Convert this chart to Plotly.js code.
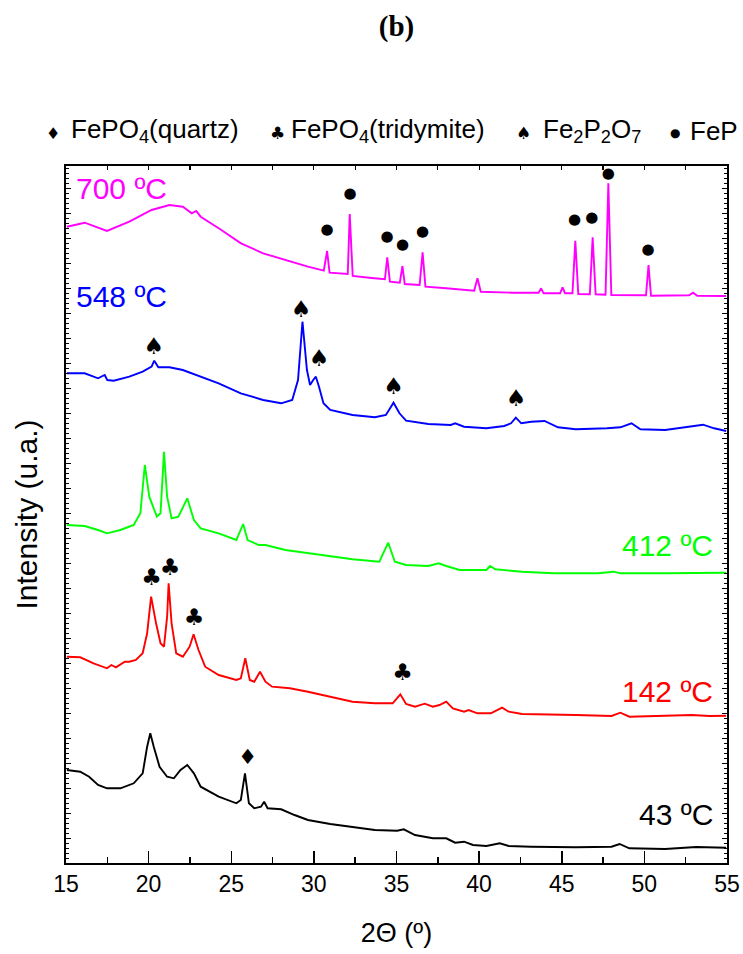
<!DOCTYPE html>
<html>
<head>
<meta charset="utf-8">
<script src="https://cdn.plot.ly/plotly-3.0.1.min.js"></script>
<style>html,body{margin:0;padding:0;background:#fff;}#chart{width:743px;height:954px;}</style>
</head>
<body>
<div id="chart"></div>
<script>
// ---- Data (2θ in degrees, intensity in arbitrary stacked units) ----
const x700 = [15.05,16.13,17.48,18.83,20.18,21.26,22.07,22.61,22.88,23.15,24.24,25.59,26.93,28.28,29.64,30.6,30.8,30.95,31.8,32.05,32.17,32.35,33.5,34.3,34.44,34.6,35.2,35.36,35.5,36.4,36.58,36.75,38,39.7,39.9,40.1,42,43.6,43.75,43.9,44.9,45.05,45.2,45.65,45.82,46.0,46.7,46.87,47.05,47.65,47.82,48.0,50.1,50.25,50.4,52.7,52.95,53.2,54.95];
const y700 = [636.3,640.3,632,641.3,653,658,656.3,649.7,652,646.3,634.7,619.7,609.7,603,596.3,592.3,612,590.3,589,589,649,587,585,583.7,605.7,581.3,580.3,597,579,578,610.7,576.3,574.7,572.3,584.7,571.3,570.3,570.3,574.7,569.7,569.7,575.7,569.7,569.7,622.3,569,568.7,625.7,568.7,568.3,679.7,568,567.7,598,567.3,567.7,570.3,567.3,567];

const x548 = [15.05,16.13,16.94,17.34,17.5,17.89,18.83,19.64,20.18,20.34,20.59,21.26,22.07,22.88,24.24,25.58,26.93,28.02,28.69,29.04,29.31,29.58,29.77,29.96,30.12,30.31,30.58,30.99,32.34,33.69,34.36,34.82,35.18,35.58,36.93,38.28,38.55,39.09,40.44,41.52,41.93,42.22,42.55,43.15,43.96,44.77,45.85,47.74,48.55,49.22,49.76,51.25,52.6,53.55,54.22,54.95];
const y548 = [489.7,489.7,484.7,488,483,482.3,486.3,491.3,496.3,502.3,495.7,495.7,493,488,479.7,469.7,463,459.7,463,483,541.3,493,478,483,486.3,476.3,459.7,453,448,445.7,448,460.3,449.7,442.3,439,438,439.7,436.3,434.7,437,439.7,445.3,439.7,441.3,442,435.7,433.7,434.7,435.7,439.7,433.7,433,435.7,438.3,434.7,432];

const x412 = [15.05,16.13,16.94,17.48,18.29,19.1,19.5,19.77,20.04,20.5,20.72,20.93,21.12,21.39,21.8,22.34,22.74,23.15,24.24,25.31,25.72,25.99,26.66,27.07,28.28,29.64,30.99,32.34,33.96,34.5,34.9,35.58,36.93,37.55,38.01,38.82,40.44,40.66,40.98,41.52,42.6,44.5,47.2,48.14,48.55,51.25,53.95,54.95];
const y412 = [338,337,333,329.7,333,338,349.7,398,366.3,346.3,349.7,411.3,366.3,344.7,346.3,364.7,343,334.7,329.7,323,339,323,318,318,313,309.7,306.3,303.7,301.3,320.3,301.3,298,297,299.7,297,293,293,297,293.7,293,291.3,289.7,289.7,291.3,289.7,289.7,290.3,290.3];

const x142 = [15.05,15.86,16.67,17.48,17.75,18.02,18.56,18.83,19.23,19.64,19.91,20.15,20.45,20.72,20.93,21.12,21.21,21.39,21.67,22.07,22.48,22.72,23.02,23.42,24.24,25.31,25.58,25.85,26.12,26.39,26.74,27.07,27.47,28.55,29.64,30.99,32.34,33.69,34.77,35.23,35.58,36.12,36.71,37.2,37.6,38.01,38.41,39.09,39.36,39.9,40.71,41.39,41.79,42.6,44.5,45.85,48.01,48.55,49.09,51.25,52.87,53.95,54.95];
const y142 = [206.3,205.7,199.7,194.7,198,195.7,201.3,201.3,203,209.7,229.7,266.3,239.7,219.7,216.3,246.3,279.7,239.7,209.7,206.3,216.3,228.7,213,196.3,188,183,184.7,204.7,183,181.3,191.3,181.3,176.3,174.7,171.3,166.3,161.3,159.7,159.7,168.7,159,156.3,159.3,156.3,158,161.3,154.7,151.3,153,149.7,149.7,155.3,151.3,149,148.7,148,147,150.3,146.3,147.3,148,147,147.3];

const x43 = [15.05,15.86,16.4,16.94,17.48,18.29,19.1,19.64,19.91,20.1,20.31,20.66,21.12,21.53,21.93,22.34,22.74,23.15,24.24,25.31,25.58,25.83,26.07,26.39,26.8,26.99,27.2,28.02,28.83,29.64,30.99,32.34,33.69,35.04,35.44,36.12,37.2,38.01,38.55,39.09,39.63,40.44,41.25,41.79,43.15,45.85,48.01,48.5,49.09,51.25,53.14,54.95];
const y43 = [93,91.3,86.3,78,74.7,74.7,79.7,89.7,116.3,129.7,116.3,96.3,86.3,84.7,93,98,89.7,76.3,66.3,59.7,63,89.7,59.7,54.7,56.3,61.3,54.7,53.7,48,43,39,35.7,33,32.3,33.7,28,24.7,24.7,20.3,21.3,18,17,19.7,17,16.3,15.7,16.3,19,14.7,14,16,15.3];

// Phase markers above reflections
const phaseX = [30.79,32.19,34.43,35.36,36.58,45.77,46.82,47.82,50.22, 20.31,29.22,30.31,34.82,42.23, 20.18,21.29,22.75,35.36, 25.99];
const phaseY = [633,668.7,625.3,617.3,630.3,643,644.7,688.3,612.7, 514.7,551.3,502.3,474.7,463, 283.7,293.7,243.7,189, 104];
const phaseSym = ['●','●','●','●','●','●','●','●','●','♠','♠','♠','♠','♠','♣','♣','♣','♣','♦'];

const seriesNames = ['43 ºC','142 ºC','412 ºC','548 ºC','700 ºC'];
const seriesColors = ['#000000','#FF0000','#00FF00','#0000FF','#FF00FF'];
const seriesX = [x43,x142,x412,x548,x700];
const seriesY = [y43,y142,y412,y548,y700];

const legendItems = ['FePO<sub>4</sub>(quartz)','FePO<sub>4</sub>(tridymite)','Fe<sub>2</sub>P<sub>2</sub>O<sub>7</sub>','FeP'];
const legendSyms = ['♦','♣','♠','●'];

// ---- Build ----
const L = 66, R = 727.5, T = 166, B = 863, W = 743, H = 954;
const px = v => (v - L) / (R - L);
const py = v => (B - v) / (B - T);

const traces = seriesX.map((xs, i) => ({
  x: xs, y: seriesY[i], type: 'scatter', mode: 'lines', name: seriesNames[i],
  line: {color: seriesColors[i], width: 1.9}, hoverinfo: 'skip'
}));
const symSize = {'●': 15, '♠': 23, '♣': 23, '♦': 21};
traces.push({
  x: phaseX, y: phaseY, xaxis: 'x2', yaxis: 'y', type: 'scatter', mode: 'text',
  text: phaseSym, textposition: 'middle center',
  textfont: {family: 'DejaVu Sans', size: phaseSym.map(s => symSize[s]), color: '#000'}, hoverinfo: 'skip'
});

const labelFont = c => ({family: 'Liberation Sans, Arial, sans-serif', size: 30, color: c});
const annotations = [
  {text: '700 ºC', xref: 'paper', yref: 'paper', x: px(74), y: py(188), xanchor: 'left', yanchor: 'middle', showarrow: false, font: labelFont('#FF00FF')},
  {text: '548 ºC', xref: 'paper', yref: 'paper', x: px(74), y: py(296), xanchor: 'left', yanchor: 'middle', showarrow: false, font: labelFont('#0000FF')},
  {text: '412 ºC', xref: 'paper', yref: 'paper', x: px(715), y: py(545), xanchor: 'right', yanchor: 'middle', showarrow: false, font: labelFont('#00FF00')},
  {text: '142 ºC', xref: 'paper', yref: 'paper', x: px(715), y: py(691), xanchor: 'right', yanchor: 'middle', showarrow: false, font: labelFont('#FF0000')},
  {text: '43 ºC', xref: 'paper', yref: 'paper', x: px(715), y: py(814), xanchor: 'right', yanchor: 'middle', showarrow: false, font: labelFont('#000000')}
];
const legSymX = [53, 278, 524, 675];
const legSymSize = [16, 17, 17, 12];
const legTextX = [69, 289, 541, 688];
legendItems.forEach((t, i) => {
  annotations.push({text: legendSyms[i], xref: 'paper', yref: 'paper', x: px(legSymX[i]), y: py(133), xanchor: 'center', yanchor: 'middle', showarrow: false,
    font: {family: 'DejaVu Sans', size: legSymSize[i], color: '#000'}});
  annotations.push({text: t, xref: 'paper', yref: 'paper', x: px(legTextX[i]), y: py(131), xanchor: 'left', yanchor: 'middle', showarrow: false,
    font: {family: 'Liberation Sans, Arial, sans-serif', size: 26, color: '#000'}});
});

const layout = {
  width: W, height: H,
  margin: {l: L, r: W - R, t: T, b: H - B},
  paper_bgcolor: '#fff', plot_bgcolor: '#fff',
  showlegend: false,
  title: {text: '<b>(b)</b>', font: {family: 'Liberation Serif, Times New Roman, serif', size: 29, color: '#000'},
    x: 0.5, xref: 'paper', xanchor: 'center', y: 1 - 26 / H, yref: 'container', yanchor: 'middle'},
  xaxis: {
    range: [15, 55], dtick: 5, tick0: 15, ticks: 'inside', ticklen: 12, tickwidth: 1.5, tickcolor: '#000',
    minor: {dtick: 2.5, ticks: 'inside', ticklen: 6, tickwidth: 1.5, tickcolor: '#000'},
    showline: true, linewidth: 1.8, linecolor: '#000', mirror: true, showgrid: false, zeroline: false,
    tickfont: {family: 'Liberation Sans, Arial, sans-serif', size: 23, color: '#000'},
    title: {text: '2Θ (º)', font: {family: 'Liberation Sans, Arial, sans-serif', size: 27, color: '#000'}, standoff: 27}
  },
  xaxis2: {
    overlaying: 'x', side: 'top', range: [15, 55], dtick: 2.5, tick0: 15, ticks: 'inside', ticklen: 4, tickwidth: 1.2, tickcolor: '#000',
    showticklabels: false, showline: false, showgrid: false, zeroline: false
  },
  yaxis: {
    range: [0, 697], showticklabels: false, ticks: 'inside', dtick: 25, tick0: 0, ticklen: 5, tickwidth: 1, tickcolor: '#000',
    minor: {dtick: 5, ticks: 'inside', ticklen: 3, tickwidth: 1, tickcolor: '#000'},
    showline: true, linewidth: 1.8, linecolor: '#000', mirror: 'ticks', showgrid: false, zeroline: false,
    title: {text: 'Intensity (u.a.)', font: {family: 'Liberation Sans, Arial, sans-serif', size: 30, color: '#000'}, standoff: 18}
  },
  annotations: annotations
};

Plotly.newPlot('chart', traces, layout, {displayModeBar: false, staticPlot: true});
</script>
</body>
</html>
